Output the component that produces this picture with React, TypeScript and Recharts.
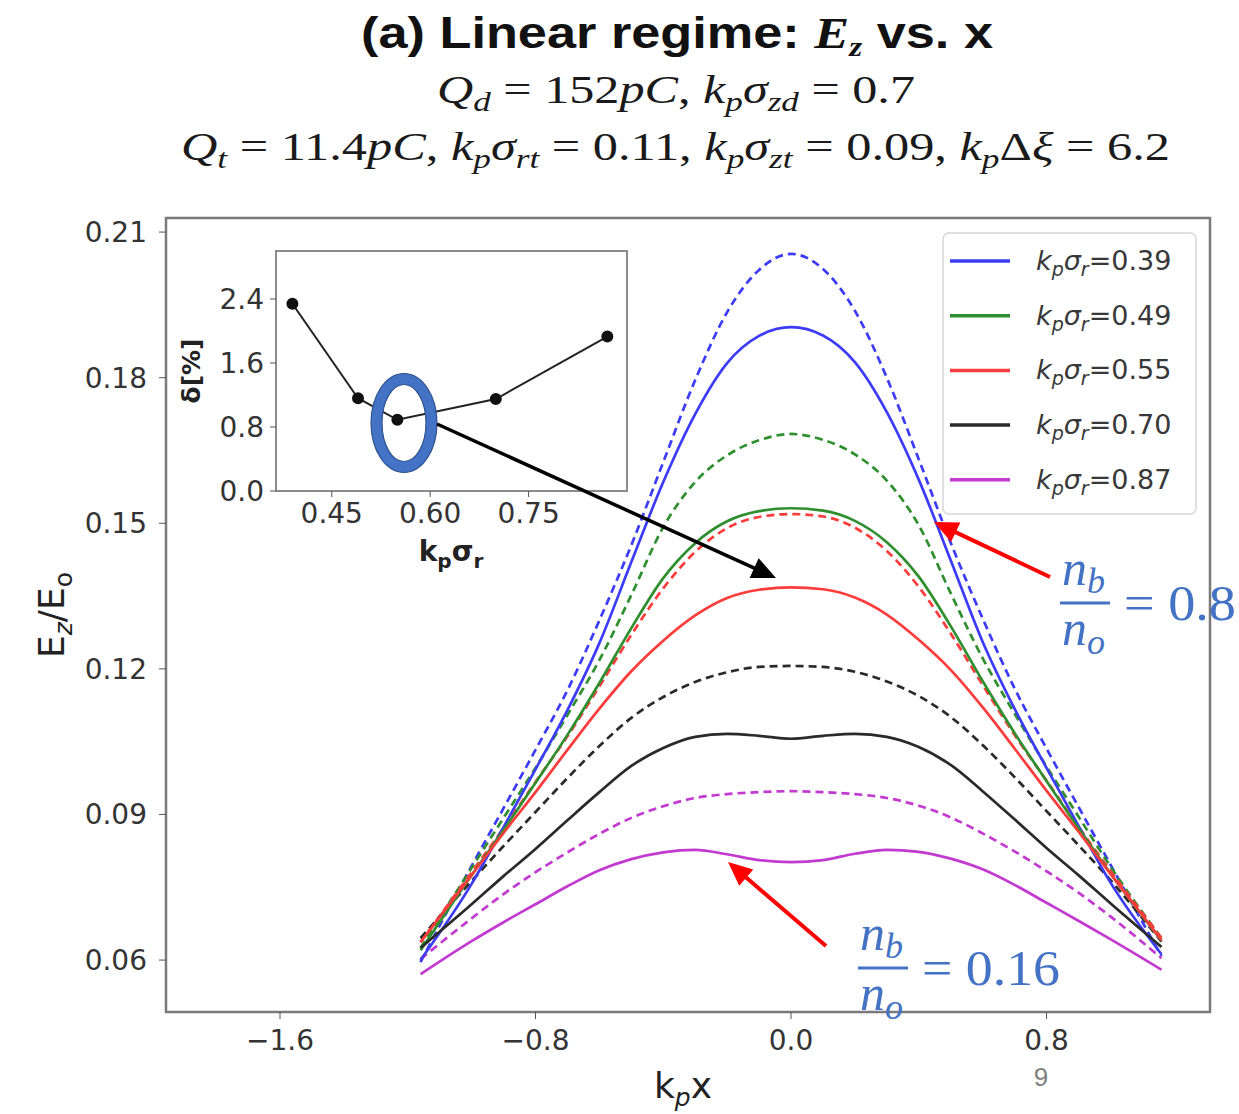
import React from "react";
import { LineChart, Line, XAxis, YAxis, ReferenceArea } from "recharts";

// k_p x sample positions shared by every field profile
const kpx = [-1.16, -1.0, -0.9, -0.8, -0.7, -0.6, -0.5, -0.4, -0.3, -0.2, -0.1, 0, 0.1, 0.2, 0.3, 0.4, 0.5, 0.6, 0.7, 0.8, 0.9, 1.0, 1.16];

// E_z / E_0 profiles, solid and dashed pair per k_p sigma_r
const ez039 = [0.0600, 0.0757, 0.0874, 0.0993, 0.1115, 0.1253, 0.1420, 0.1585, 0.1725, 0.1830, 0.1886, 0.1904, 0.1887, 0.1832, 0.1729, 0.1590, 0.1424, 0.1256, 0.1118, 0.0996, 0.0877, 0.0760, 0.0612];
const ez039d = [0.0596, 0.0794, 0.0913, 0.1033, 0.1156, 0.1300, 0.1455, 0.1626, 0.1795, 0.1935, 0.2022, 0.2055, 0.2024, 0.1938, 0.1800, 0.1632, 0.1460, 0.1304, 0.1160, 0.1036, 0.0916, 0.0797, 0.0608];
const ez049 = [0.0620, 0.0775, 0.0868, 0.0965, 0.1064, 0.1171, 0.1284, 0.1387, 0.1459, 0.1504, 0.1525, 0.1531, 0.1526, 0.1505, 0.1461, 0.1390, 0.1288, 0.1175, 0.1068, 0.0969, 0.0872, 0.0779, 0.0640];
const ez049d = [0.0625, 0.0790, 0.0893, 0.0996, 0.1105, 0.1218, 0.1352, 0.1492, 0.1585, 0.1640, 0.1671, 0.1684, 0.1672, 0.1642, 0.1588, 0.1496, 0.1356, 0.1222, 0.1108, 0.0999, 0.0896, 0.0793, 0.0645];
const ez055 = [0.0637, 0.0775, 0.0862, 0.0946, 0.1033, 0.1118, 0.1195, 0.1258, 0.1310, 0.1346, 0.1363, 0.1368, 0.1364, 0.1347, 0.1312, 0.1260, 0.1198, 0.1121, 0.1036, 0.0949, 0.0865, 0.0778, 0.0641];
const ez055d = [0.0637, 0.0781, 0.0872, 0.0967, 0.1061, 0.1164, 0.1270, 0.1366, 0.1441, 0.1490, 0.1513, 0.1519, 0.1514, 0.1491, 0.1443, 0.1369, 0.1273, 0.1167, 0.1064, 0.0970, 0.0875, 0.0784, 0.0646];
const ez070 = [0.0625, 0.0715, 0.0773, 0.0829, 0.0888, 0.0946, 0.1000, 0.1037, 0.1060, 0.1066, 0.1062, 0.1056, 0.1062, 0.1066, 0.1060, 0.1039, 0.1002, 0.0948, 0.0890, 0.0831, 0.0775, 0.0717, 0.0627];
const ez070d = [0.0645, 0.0763, 0.0835, 0.0905, 0.0975, 0.1041, 0.1099, 0.1142, 0.1173, 0.1193, 0.1204, 0.1206, 0.1204, 0.1194, 0.1174, 0.1144, 0.1101, 0.1043, 0.0977, 0.0907, 0.0837, 0.0765, 0.0638];
const ez087 = [0.0571, 0.0639, 0.0678, 0.0715, 0.0752, 0.0785, 0.0808, 0.0822, 0.0827, 0.0818, 0.0806, 0.0802, 0.0806, 0.0819, 0.0827, 0.0823, 0.0809, 0.0787, 0.0755, 0.0718, 0.0681, 0.0643, 0.0580];
const ez087d = [0.0602, 0.0686, 0.0736, 0.0781, 0.0822, 0.0860, 0.0893, 0.0917, 0.0934, 0.0942, 0.0946, 0.0948, 0.0946, 0.0942, 0.0934, 0.0918, 0.0894, 0.0861, 0.0824, 0.0783, 0.0739, 0.0690, 0.0604];

const sigmaLabels = ["0.39", "0.49", "0.55", "0.70", "0.87"];
const colors = ["#3c3cf8", "#2f8f2f", "#ff3c3c", "#2a2a2a", "#c23ad0"];

// inset: transformer ratio spread vs k_p sigma_r
const insetSigma = [0.39, 0.49, 0.55, 0.70, 0.87];
const insetDelta = [2.34, 1.16, 0.89, 1.15, 1.93];

const xTicks = [-1.6, -0.8, 0, 0.8];
const yTicks = [0.06, 0.09, 0.12, 0.15, 0.18, 0.21];
const insetXTicks = [0.45, 0.6, 0.75];
const insetYTicks = [0, 0.8, 1.6, 2.4];

const series = [
  { solid: ez039, dashed: ez039d },
  { solid: ez049, dashed: ez049d },
  { solid: ez055, dashed: ez055d },
  { solid: ez070, dashed: ez070d },
  { solid: ez087, dashed: ez087d },
].map((s, i) => ({ ...s, label: sigmaLabels[i], color: colors[i] }));

const rows = kpx.map((x, i) => {
  const r: Record<string, number> = { x };
  series.forEach((s, j) => {
    r[`s${j}`] = s.solid[i];
    r[`d${j}`] = s.dashed[i];
  });
  return r;
});

const insetRows = insetSigma.map((sigma, i) => ({ sigma, delta: insetDelta[i] }));

const X_DOMAIN: [number, number] = [-1.957, 1.312];
const Y_DOMAIN: [number, number] = [0.0493, 0.2129];

const tickFont = { fontSize: 28, fill: "#333", fontFamily: "DejaVu Sans" };
const minus = (v: number, d: number) => (v < 0 ? "\u2212" : "") + Math.abs(v).toFixed(d);

function Arrow({ x1, y1, x2, y2, color, width, head }: { x1: number; y1: number; x2: number; y2: number; color: string; width: number; head: number }) {
  const dx = x2 - x1;
  const dy = y2 - y1;
  const len = Math.hypot(dx, dy);
  const ux = dx / len;
  const uy = dy / len;
  const bx = x2 - ux * head;
  const by = y2 - uy * head;
  const hw = head * 0.45;
  const pts = `${x2},${y2} ${bx - uy * hw},${by + ux * hw} ${bx + uy * hw},${by - ux * hw}`;
  return (
    <g>
      <line x1={x1} y1={y1} x2={bx + ux * 2} y2={by + uy * 2} stroke={color} strokeWidth={width} />
      <polygon points={pts} fill={color} />
    </g>
  );
}

function Ratio({ x, y, value, len }: { x: number; y: number; value: string; len: number }) {
  const blue = "#4472c4";
  return (
    <g fill={blue} fontFamily="Liberation Serif">
      <text x={x + 2} y={y - 18} fontSize={50} fontStyle="italic">
        n<tspan fontSize={36} dy={8}>b</tspan>
      </text>
      <line x1={x} y1={y} x2={x + 50} y2={y} stroke={blue} strokeWidth={3} />
      <text x={x + 2} y={y + 42} fontSize={50} fontStyle="italic">
        n<tspan fontSize={36} dy={9}>o</tspan>
      </text>
      <text x={x + 64} y={y + 17} fontSize={50} textLength={len} lengthAdjust="spacingAndGlyphs">
        {"= " + value}
      </text>
    </g>
  );
}

export default function App() {
  return (
    <div style={{ position: "absolute", left: 0, top: 0, width: 1239, height: 1114, background: "#fff", overflow: "hidden" }}>
      {/* inset panel */}
      <div style={{ position: "absolute", left: 0, top: 0 }}>
        <LineChart width={700} height={600} data={insetRows} margin={{ top: 251, right: 73, bottom: 59, left: 216 }}>
          <ReferenceArea x1={0.365} x2={0.9} y1={0} y2={3} fill="#fff" fillOpacity={1} stroke="#8c8c8c" strokeWidth={2} ifOverflow="visible" />
          <XAxis type="number" dataKey="sigma" domain={[0.365, 0.9]} ticks={insetXTicks} height={50} axisLine={false}
            tickSize={6} tickMargin={6} tickLine={{ stroke: "#555" }} tick={tickFont}
            tickFormatter={(v: number) => v.toFixed(2)} allowDataOverflow interval={0} />
          <YAxis type="number" domain={[0, 3]} ticks={insetYTicks} width={60} axisLine={false}
            tickSize={6} tickMargin={6} tickLine={{ stroke: "#555" }} tick={tickFont}
            tickFormatter={(v: number) => v.toFixed(1)} allowDataOverflow interval={0} />
          <Line dataKey="delta" stroke="#222" strokeWidth={2} isAnimationActive={false}
            dot={{ r: 5, fill: "#111", stroke: "#111" }} />
        </LineChart>
      </div>

      {/* main field profiles */}
      <div style={{ position: "absolute", left: 0, top: 0 }}>
        <LineChart width={1239} height={1114} data={rows} margin={{ top: 218, right: 29, bottom: 42, left: 86 }}>
          <XAxis type="number" dataKey="x" domain={X_DOMAIN} ticks={xTicks} height={60} axisLine={false}
            tickSize={7} tickMargin={11} tickLine={{ stroke: "#555" }} tick={tickFont}
            tickFormatter={(v: number) => minus(v, 1)} allowDataOverflow interval={0} />
          <YAxis type="number" domain={Y_DOMAIN} ticks={yTicks} width={80} axisLine={false}
            tickSize={7} tickMargin={12} tickLine={{ stroke: "#555" }} tick={tickFont}
            tickFormatter={(v: number) => v.toFixed(2)} allowDataOverflow interval={0} />
          <ReferenceArea x1={X_DOMAIN[0]} x2={X_DOMAIN[1]} y1={Y_DOMAIN[0]} y2={Y_DOMAIN[1]} fill="none" stroke="#7a7a7a" strokeWidth={2.5} ifOverflow="visible" />
          {series.map((s, j) => (
            <Line key={`d${j}`} dataKey={`d${j}`} type="monotone" stroke={s.color} strokeWidth={2.7}
              strokeDasharray="8 5" dot={false} isAnimationActive={false} />
          ))}
          {series.map((s, j) => (
            <Line key={`s${j}`} dataKey={`s${j}`} type="monotone" stroke={s.color} strokeWidth={2.7}
              dot={false} isAnimationActive={false} />
          ))}
        </LineChart>
      </div>

      {/* titles, axis labels, legend and callouts */}
      <svg width={1239} height={1114} style={{ position: "absolute", left: 0, top: 0, pointerEvents: "none" }}>
        <text x={361} y={48} fontFamily="Liberation Sans" fontWeight="bold" fontSize={44} fill="#111" textLength={632} lengthAdjust="spacingAndGlyphs">
          {"(a) Linear regime: "}
          <tspan fontFamily="Liberation Serif" fontStyle="italic">E</tspan>
          <tspan fontFamily="Liberation Serif" fontStyle="italic" fontSize={28} dy={8}>z</tspan>
          <tspan dy={-8}>{" vs. x"}</tspan>
        </text>
        <g fontFamily="Liberation Serif" fontSize={40} fill="#1a1a1a">
          <text x={437} y={103} textLength={478} lengthAdjust="spacingAndGlyphs">
            <tspan fontStyle="italic">Q</tspan>
            <tspan fontStyle="italic" fontSize={28} dy={8}>d</tspan>
            <tspan dy={-8}>{" = 152"}</tspan>
            <tspan fontStyle="italic">pC</tspan>
            <tspan>{", "}</tspan>
            <tspan fontStyle="italic">k</tspan>
            <tspan fontStyle="italic" fontSize={28} dy={8}>p</tspan>
            <tspan fontStyle="italic" dy={-8}>σ</tspan>
            <tspan fontStyle="italic" fontSize={28} dy={8}>zd</tspan>
            <tspan dy={-8}>{" = 0.7"}</tspan>
          </text>
          <text x={181} y={160} textLength={989} lengthAdjust="spacingAndGlyphs">
            <tspan fontStyle="italic">Q</tspan>
            <tspan fontStyle="italic" fontSize={28} dy={8}>t</tspan>
            <tspan dy={-8}>{" = 11.4"}</tspan>
            <tspan fontStyle="italic">pC</tspan>
            <tspan>{", "}</tspan>
            <tspan fontStyle="italic">k</tspan>
            <tspan fontStyle="italic" fontSize={28} dy={8}>p</tspan>
            <tspan fontStyle="italic" dy={-8}>σ</tspan>
            <tspan fontStyle="italic" fontSize={28} dy={8}>rt</tspan>
            <tspan dy={-8}>{" = 0.11, "}</tspan>
            <tspan fontStyle="italic">k</tspan>
            <tspan fontStyle="italic" fontSize={28} dy={8}>p</tspan>
            <tspan fontStyle="italic" dy={-8}>σ</tspan>
            <tspan fontStyle="italic" fontSize={28} dy={8}>zt</tspan>
            <tspan dy={-8}>{" = 0.09, "}</tspan>
            <tspan fontStyle="italic">k</tspan>
            <tspan fontStyle="italic" fontSize={28} dy={8}>p</tspan>
            <tspan dy={-8}>Δ</tspan>
            <tspan fontStyle="italic">ξ</tspan>
            <tspan>{" = 6.2"}</tspan>
          </text>
        </g>

        {/* main axis labels */}
        <text transform="translate(64,615) rotate(-90)" textAnchor="middle" fontFamily="DejaVu Sans" fontSize={36} fill="#222">
          E<tspan fontStyle="italic" fontSize={25} dy={8}>z</tspan>
          <tspan dy={-8}>/E</tspan>
          <tspan fontSize={25} dy={8}>o</tspan>
        </text>
        <text x={683} y={1098} textAnchor="middle" fontFamily="DejaVu Sans" fontSize={36} fill="#222">
          k<tspan fontStyle="italic" fontSize={25} dy={8}>p</tspan>
          <tspan dy={-8}>x</tspan>
        </text>

        {/* inset axis labels */}
        <text transform="translate(200,371) rotate(-90)" textAnchor="middle" fontFamily="DejaVu Sans" fontWeight="bold" fontSize={25} fill="#222">
          δ[%]
        </text>
        <text x={451} y={561} textAnchor="middle" fontFamily="DejaVu Sans" fontWeight="bold" fontSize={28} fill="#222">
          k<tspan fontSize={20} dy={7}>p</tspan>
          <tspan dy={-7}>σ</tspan>
          <tspan fontSize={20} dy={7}>r</tspan>
        </text>

        {/* legend */}
        <rect x={943} y={233} width={253} height={281} rx={6} fill="#fff" fillOpacity={0.85} stroke="#d6d6d6" strokeWidth={1.5} />
        {series.map((s, i) => {
          const y = 261 + i * 54.7;
          return (
            <g key={s.label}>
              <line x1={950} x2={1010} y1={y} y2={y} stroke={s.color} strokeWidth={3.5} />
              <text x={1036} y={y + 9} fontFamily="DejaVu Sans" fontSize={27} fill="#383838">
                <tspan fontStyle="italic">k</tspan>
                <tspan fontStyle="italic" fontSize={19} dy={6}>p</tspan>
                <tspan fontStyle="italic" dy={-6}>σ</tspan>
                <tspan fontStyle="italic" fontSize={19} dy={6}>r</tspan>
                <tspan dy={-6}>{"=" + s.label}</tspan>
              </text>
            </g>
          );
        })}

        {/* callouts */}
        <ellipse cx={404} cy={423} rx={27.5} ry={44} fill="none" stroke="#4472c4" strokeWidth={11} />
        <ellipse cx={404} cy={423} rx={33} ry={49.5} fill="none" stroke="#2f528f" strokeWidth={1.2} />
        <ellipse cx={404} cy={423} rx={22} ry={38.5} fill="none" stroke="#2f528f" strokeWidth={1.2} />
        <Arrow x1={437} y1={424} x2={776} y2={578} color="#000" width={3.5} head={24} />
        <Arrow x1={1050} y1={577} x2={934} y2={522} color="#ff0000" width={4} head={24} />
        <Arrow x1={826} y1={946} x2={728} y2={862} color="#ff0000" width={4} head={24} />
        <Ratio x={1060} y={603} value="0.8" len={112} />
        <Ratio x={858} y={968} value="0.16" len={138} />

        <text x={1041} y={1086} textAnchor="middle" fontFamily="Liberation Sans" fontSize={26} fill="#7f7f7f">9</text>
      </svg>
    </div>
  );
}
